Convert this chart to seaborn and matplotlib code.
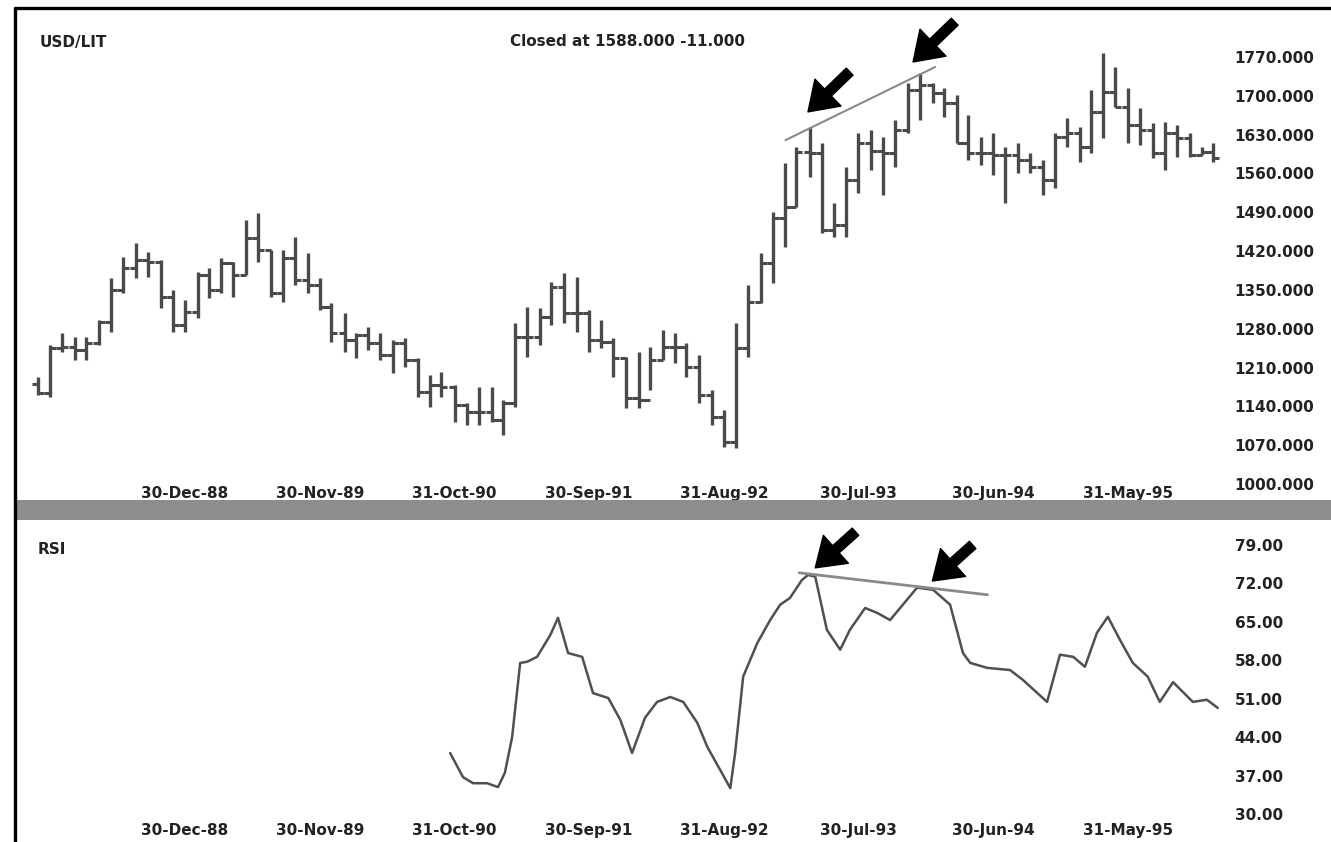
import pandas as pd
import seaborn as sns
import matplotlib.pyplot as plt
import matplotlib.dates as mdates
from matplotlib.lines import Line2D
from matplotlib.patches import Rectangle

sns.set_style('white')
plt.rcParams['font.family'] = ['DejaVu Sans']

# monthly USD/LIT bars, Dec-87 .. Dec-95 (last business day of month)
bar_dates = pd.date_range('1987-12-31', periods=97, freq=pd.offsets.BMonthEnd())

price_open = [1180, 1164, 1245, 1247, 1242, 1254, 1292, 1350, 1390, 1404,
              1400, 1337, 1287, 1310, 1377, 1350, 1398, 1377, 1443, 1422,
              1344, 1407, 1368, 1359, 1319, 1272, 1260, 1269, 1254, 1233,
              1254, 1224, 1166, 1179, 1175, 1142, 1130, 1130, 1115, 1146,
              1265, 1265, 1301, 1355, 1308, 1308, 1260, 1256, 1227, 1155,
              1151, 1224, 1247, 1247, 1211, 1160, 1121, 1076, 1245, 1328,
              1398, 1480, 1500, 1599, 1597, 1458, 1467, 1548, 1615, 1600,
              1597, 1638, 1711, 1720, 1705, 1687, 1615, 1597, 1597, 1593,
              1593, 1584, 1572, 1548, 1626, 1633, 1608, 1671, 1707, 1680,
              1647, 1638, 1597, 1633, 1624, 1593, 1599]
price_high = [1193, 1251, 1272, 1265, 1265, 1296, 1371, 1409, 1435, 1418,
              1404, 1350, 1332, 1382, 1390, 1407, 1400, 1476, 1489, 1422,
              1422, 1445, 1416, 1371, 1326, 1308, 1272, 1283, 1272, 1260,
              1263, 1227, 1197, 1202, 1179, 1146, 1175, 1175, 1151, 1290,
              1319, 1317, 1364, 1380, 1373, 1314, 1296, 1263, 1229, 1238,
              1247, 1278, 1272, 1254, 1233, 1170, 1133, 1290, 1359, 1416,
              1490, 1579, 1608, 1644, 1615, 1507, 1572, 1633, 1638, 1626,
              1656, 1723, 1741, 1723, 1714, 1701, 1665, 1626, 1633, 1608,
              1615, 1597, 1584, 1633, 1660, 1644, 1711, 1777, 1752, 1714,
              1678, 1651, 1653, 1647, 1633, 1608, 1615]
price_low = [1160, 1157, 1238, 1224, 1224, 1251, 1274, 1344, 1371, 1373,
             1317, 1274, 1274, 1299, 1335, 1344, 1337, 1377, 1400, 1337,
             1328, 1359, 1344, 1314, 1256, 1238, 1227, 1242, 1224, 1200,
             1211, 1157, 1139, 1157, 1112, 1106, 1106, 1112, 1088, 1139,
             1229, 1251, 1287, 1290, 1274, 1238, 1245, 1193, 1137, 1137,
             1170, 1224, 1218, 1193, 1146, 1106, 1067, 1065, 1229, 1326,
             1362, 1427, 1500, 1554, 1453, 1445, 1445, 1525, 1566, 1521,
             1572, 1633, 1656, 1687, 1662, 1615, 1584, 1575, 1557, 1507,
             1561, 1561, 1521, 1534, 1608, 1581, 1597, 1624, 1680, 1615,
             1611, 1588, 1566, 1590, 1590, 1593, 1581]
price_close = [1164, 1245, 1247, 1242, 1254, 1292, 1350, 1390, 1404, 1400,
               1337, 1287, 1310, 1377, 1350, 1398, 1377, 1443, 1422, 1344,
               1407, 1368, 1359, 1319, 1272, 1260, 1269, 1254, 1233, 1254,
               1224, 1166, 1179, 1175, 1142, 1130, 1130, 1115, 1146, 1265,
               1265, 1301, 1355, 1308, 1308, 1260, 1256, 1227, 1155, 1151,
               1224, 1247, 1247, 1211, 1160, 1121, 1076, 1245, 1328, 1398,
               1480, 1500, 1599, 1597, 1458, 1467, 1548, 1615, 1600, 1597,
               1638, 1711, 1720, 1705, 1687, 1615, 1597, 1597, 1593, 1593,
               1584, 1572, 1548, 1626, 1633, 1608, 1671, 1707, 1680, 1647,
               1638, 1597, 1633, 1624, 1593, 1599, 1588]

rsi_dates = ['1990-10-20', '1990-11-21', '1990-12-16', '1991-01-20', '1991-02-16',
             '1991-03-05', '1991-03-23', '1991-04-12', '1991-04-29', '1991-05-24',
             '1991-06-26', '1991-07-15', '1991-08-09', '1991-09-13', '1991-10-10',
             '1991-11-17', '1991-12-17', '1992-01-15', '1992-02-16', '1992-03-17',
             '1992-04-19', '1992-05-21', '1992-06-25', '1992-07-20', '1992-08-21',
             '1992-09-15', '1992-09-27', '1992-10-17', '1992-11-21', '1992-12-23',
             '1993-01-17', '1993-02-10', '1993-03-12', '1993-03-27', '1993-04-14',
             '1993-05-13', '1993-06-15', '1993-07-09', '1993-08-16', '1993-09-15',
             '1993-10-17', '1993-11-11', '1993-12-23', '1994-02-01', '1994-03-15',
             '1994-04-16', '1994-05-04', '1994-06-15', '1994-08-11', '1994-09-12',
             '1994-11-11', '1994-12-13', '1995-01-15', '1995-02-13', '1995-03-15',
             '1995-04-11', '1995-05-11', '1995-06-12', '1995-07-19', '1995-08-18',
             '1995-09-20', '1995-11-08', '1995-12-13', '1996-01-09']
rsi_values = [41.1, 36.7, 35.6, 35.6, 34.9, 37.5, 44.0, 57.5, 57.7, 58.6,
              62.6, 65.7, 59.3, 58.6, 52.0, 51.1, 47.1, 41.1, 47.5, 50.4,
              51.3, 50.4, 46.6, 42.2, 38.0, 34.7, 41.1, 55.0, 61.1, 65.3,
              68.1, 69.3, 72.6, 73.5, 73.2, 63.5, 59.9, 63.5, 67.5, 66.6,
              65.3, 67.5, 71.2, 70.8, 68.1, 59.3, 57.5, 56.6, 56.2, 54.4,
              50.4, 59.0, 58.6, 56.8, 63.0, 65.9, 61.7, 57.5, 55.0, 50.4,
              54.0, 50.4, 50.8, 49.3]

# trendlines and arrow tips
price_trend_dates = ['1993-01-30', '1994-02-06']
price_trend_values = [1620, 1752]
rsi_trend_dates = ['1993-03-05', '1994-06-16']
rsi_trend_values = [73.9, 69.9]
price_arrow_dates = ['1993-03-27', '1993-12-13']
price_arrow_values = [1671, 1761]
rsi_arrow_dates = ['1993-04-14', '1994-01-30']
rsi_arrow_values = [74.8, 72.4]

tick_labels = ['30-Dec-88', '30-Nov-89', '31-Oct-90', '30-Sep-91',
               '31-Aug-92', '30-Jul-93', '30-Jun-94', '31-May-95']
price_ticks = [1000, 1070, 1140, 1210, 1280, 1350, 1420, 1490, 1560, 1630, 1700, 1770]
rsi_ticks = [30, 37, 44, 51, 58, 65, 72, 79]

W, H = 1331, 842
fig = plt.figure(figsize=(W / 100, H / 100), dpi=100)
fig.patch.set_facecolor('white')

ax1 = fig.add_axes([15 / W, 1 - 484 / H, 1210 / W, 464 / H])
ax2 = fig.add_axes([15 / W, 1 - 814 / H, 1210 / W, 289 / H])

bar_col = '#4a4a4a'
half = pd.Timedelta(days=15)
ax1.vlines(bar_dates, price_low, price_high, color=bar_col, lw=2.4)
ax1.hlines(price_open, bar_dates - half, bar_dates, color=bar_col, lw=2.2)
ax1.hlines(price_close, bar_dates, bar_dates + half, color=bar_col, lw=2.2)
sns.lineplot(x=pd.to_datetime(price_trend_dates), y=price_trend_values, ax=ax1,
             color='#8a8a8a', lw=1.5)

sns.lineplot(x=pd.to_datetime(rsi_dates), y=rsi_values, ax=ax2,
             color='#505050', lw=1.8)
sns.lineplot(x=pd.to_datetime(rsi_trend_dates), y=rsi_trend_values, ax=ax2,
             color='#8a8a8a', lw=2.0)

arrow = dict(facecolor='black', edgecolor='black', width=7, headwidth=27,
             headlength=20, shrink=0)
for d, v in zip(price_arrow_dates, price_arrow_values):
    ax1.annotate('', xy=(mdates.date2num(pd.Timestamp(d)), v), xytext=(30, 29),
                 textcoords='offset points', arrowprops=arrow, annotation_clip=False)
for d, v in zip(rsi_arrow_dates, rsi_arrow_values):
    ax2.annotate('', xy=(mdates.date2num(pd.Timestamp(d)), v), xytext=(29, 26),
                 textcoords='offset points', arrowprops=arrow, annotation_clip=False)

xlo = bar_dates[0] - pd.Timedelta(days=57)
xhi = bar_dates[-1] + pd.Timedelta(days=29)
tick_dates = pd.to_datetime(tick_labels, format='%d-%b-%y')
txt = dict(fontsize=11, fontweight='bold', color='#222222')

for ax, ticks, fmt, ylim, xpad in [
        (ax1, price_ticks, '{:.3f}', (1000, 1836.7), 1.5),
        (ax2, rsi_ticks, '{:.2f}', (30, 82.6), 6.5)]:
    ax.set_xlim(xlo, xhi)
    ax.set_ylim(*ylim)
    ax.set_xticks(tick_dates)
    ax.set_xticklabels(tick_labels, **txt)
    ax.yaxis.tick_right()
    ax.set_yticks(ticks)
    ax.set_yticklabels([fmt.format(t) for t in ticks], **txt)
    ax.tick_params(axis='y', length=0, pad=7)
    ax.tick_params(axis='x', length=0, pad=xpad)
    ax.set_xlabel('')
    ax.set_ylabel('')
    ax.set_facecolor('none')
    for s in ax.spines.values():
        s.set_visible(False)

fig.text(40 / W, 1 - 42 / H, 'USD/LIT', ha='left', va='center', **txt)
fig.text(628 / W, 1 - 42 / H, 'Closed at 1588.000 -11.000', ha='center', va='center', **txt)
fig.text(38 / W, 1 - 549 / H, 'RSI', ha='left', va='center', **txt)

# grey divider and black frame
fig.add_artist(Rectangle((16 / W, 1 - 520 / H), 1, 20 / H, transform=fig.transFigure,
                         color='#8d8d8d', lw=0))
fig.add_artist(Line2D([15 / W, 15 / W], [0, 1 - 8 / H], transform=fig.transFigure,
                      color='black', lw=2.4))
fig.add_artist(Line2D([15 / W, 1], [1 - 8 / H, 1 - 8 / H], transform=fig.transFigure,
                      color='black', lw=2.4))

fig.savefig('out.png', dpi=100)
